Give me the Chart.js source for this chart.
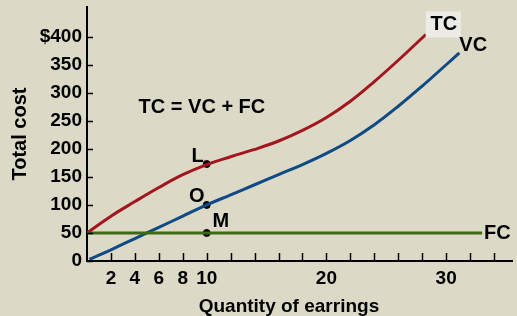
<!DOCTYPE html>
<html>
<head>
<meta charset="utf-8">
<script src="https://cdn.jsdelivr.net/npm/chart.js@4/dist/chart.umd.min.js"></script>
<style>
  html, body { margin: 0; padding: 0; background: #dcd9c6; }
  #wrap { width: 517px; height: 316px; }
</style>
</head>
<body>
<div id="wrap"><canvas id="cost-chart" width="517" height="316"></canvas></div>
<script>
// quantities / costs
const tcQty  = [0, 2, 4, 6, 8, 10, 12, 14, 16, 18, 20, 22, 24, 26, 28.3];
const tcCost = [50, 80, 106, 131, 154, 172, 186, 199, 214, 233, 256, 285, 320, 358, 404];

const vcQty  = [0.2, 2, 4, 6, 8, 10, 12, 14, 16, 18, 20, 22, 24, 26, 28, 30, 31.1];
const vcCost = [3, 20, 40, 60, 80, 100, 118, 136, 154, 172, 192, 215, 243, 276, 312, 350, 371];

const fcQty  = [0, 33];
const fcCost = [50, 50];

const markNames = ['L', 'O', 'M'];
const markQty   = [10, 10, 10];
const markCost  = [173, 100, 50];

const xTickValues = [2, 4, 6, 8, 10, 12, 14, 16, 18, 20, 22, 24, 26, 28, 30, 32, 34];
const xTickLabels = {2: '2', 4: '4', 6: '6', 8: '8', 10: '10', 20: '20', 30: '30'};
const yTickValues = [0, 50, 100, 150, 200, 250, 300, 350, 400];
const yTickLabels = ['0', '50', '100', '150', '200', '250', '300', '350', '$400'];

const FONT = "'Liberation Sans', Arial, sans-serif";

const pts = (xs, ys) => xs.map((x, i) => ({x: x, y: ys[i]}));

const bgPlugin = {
  id: 'bg',
  beforeDraw: (chart) => {
    const ctx = chart.ctx;
    ctx.save();
    ctx.fillStyle = '#dcd9c6';
    ctx.fillRect(0, 0, chart.width, chart.height);
    ctx.restore();
  }
};

// inward tick marks + text labels
const marksPlugin = {
  id: 'marks',
  afterDraw: (chart) => {
    const ctx = chart.ctx;
    const xs = chart.scales.x, ys = chart.scales.y;
    const area = chart.chartArea;
    ctx.save();
    ctx.strokeStyle = '#000';
    ctx.lineWidth = 1.5;
    ctx.beginPath();
    xTickValues.forEach(v => {
      const px = Math.round(xs.getPixelForValue(v)) + 0.5;
      ctx.moveTo(px, area.bottom);
      ctx.lineTo(px, area.bottom - 8);
    });
    yTickValues.forEach(v => {
      const py = Math.round(ys.getPixelForValue(v)) + 0.5;
      ctx.moveTo(area.left, py);
      ctx.lineTo(area.left + 6, py);
    });
    ctx.stroke();

    ctx.fillStyle = '#000';
    ctx.font = 'bold 20px ' + FONT;
    ctx.textBaseline = 'middle';

    ctx.textAlign = 'center';
    ctx.fillText('TC = VC + FC', xs.getPixelForValue(9.6), ys.getPixelForValue(273));

    // point labels
    const offs = [[-9, -8], [-10, -8], [14, -11]];
    markNames.forEach((n, i) => {
      ctx.fillText(n, xs.getPixelForValue(markQty[i]) + offs[i][0], ys.getPixelForValue(markCost[i]) + offs[i][1]);
    });

    // curve end labels
    const tx = xs.getPixelForValue(tcQty[tcQty.length - 1]);
    const ty = ys.getPixelForValue(tcCost[tcCost.length - 1]);
    ctx.fillStyle = '#ecebe6';
    ctx.fillRect(tx, ty - 23, 35, 26);
    ctx.fillStyle = '#000';
    ctx.fillText('TC', tx + 18, ty - 10);

    const vx = xs.getPixelForValue(vcQty[vcQty.length - 1]);
    const vy = ys.getPixelForValue(vcCost[vcCost.length - 1]);
    ctx.textAlign = 'left';
    ctx.fillText('VC', vx + 0, vy - 7);

    const fx = xs.getPixelForValue(fcQty[1]);
    const fy = ys.getPixelForValue(fcCost[1]);
    ctx.fillText('FC', fx + 2, fy + 1);
    ctx.restore();
  }
};

new Chart(document.getElementById('cost-chart'), {
  type: 'line',
  data: {
    datasets: [
      {
        label: 'FC',
        data: pts(fcQty, fcCost),
        borderColor: '#3d6a12',
        borderWidth: 3,
        pointRadius: 0
      },
      {
        label: 'VC',
        data: pts(vcQty, vcCost),
        borderColor: '#0d4a86',
        borderWidth: 3,
        pointRadius: 0,
        tension: 0.4
      },
      {
        label: 'TC',
        data: pts(tcQty, tcCost),
        borderColor: '#a3151f',
        borderWidth: 3,
        pointRadius: 0,
        tension: 0.4
      },
      {
        type: 'scatter',
        label: 'marks',
        data: pts(markQty, markCost),
        backgroundColor: '#000',
        borderColor: '#000',
        pointRadius: 3.5,
        showLine: false
      }
    ]
  },
  options: {
    responsive: false,
    animation: false,
    events: [],
    layout: {padding: {top: 7, right: 0, left: 0, bottom: 0}},
    plugins: {legend: {display: false}, tooltip: {enabled: false}},
    scales: {
      x: {
        type: 'linear',
        min: 0,
        max: 35.5,
        afterFit: (s) => { s.height = 55; s.paddingLeft = 0; s.paddingRight = 0; },
        afterBuildTicks: (s) => { s.ticks = xTickValues.map(v => ({value: v})); },
        grid: {display: true, drawOnChartArea: false, drawTicks: false},
        border: {display: true, color: '#000', width: 2},
        ticks: {
          autoSkip: false,
          maxRotation: 0,
          padding: 6,
          color: '#000',
          font: {family: FONT, size: 19, weight: 'bold'},
          callback: (v) => xTickLabels[v] || ''
        },
        title: {
          display: true,
          text: 'Quantity of earrings\u00a0\u00a0\u00a0\u00a0',
          color: '#000',
          font: {family: FONT, size: 19, weight: 'bold'},
          padding: {top: 0, bottom: -2}
        }
      },
      y: {
        min: 0,
        max: 453,
        afterFit: (s) => { s.width = 87; s.paddingTop = 0; s.paddingBottom = 0; },
        afterBuildTicks: (s) => { s.ticks = yTickValues.map(v => ({value: v})); },
        grid: {display: true, drawOnChartArea: false, drawTicks: false},
        border: {display: true, color: '#000', width: 2},
        ticks: {
          padding: 5,
          color: '#000',
          font: {family: FONT, size: 19, weight: 'bold'},
          callback: (v) => yTickLabels[yTickValues.indexOf(v)]
        },
        title: {
          display: true,
          text: 'Total cost',
          color: '#000',
          font: {family: FONT, size: 20, weight: 'bold'},
          padding: {top: 8, bottom: 0}
        }
      }
    }
  },
  plugins: [bgPlugin, marksPlugin]
});
</script>
</body>
</html>
